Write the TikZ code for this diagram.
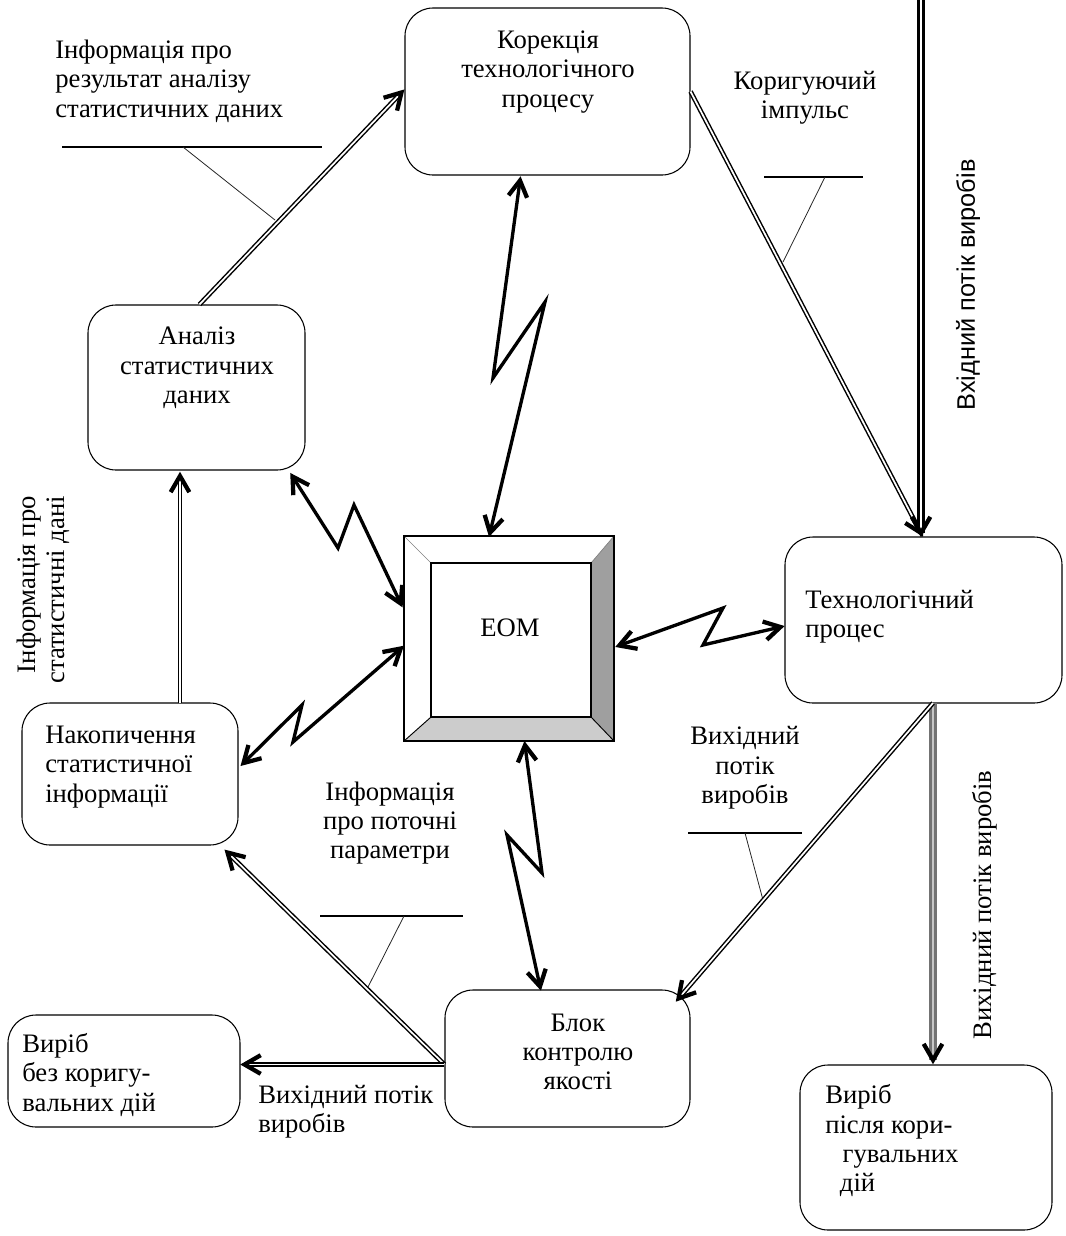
\documentclass[tikz,border=0pt]{standalone}
\usepackage{fontspec}
\setmainfont{Liberation Serif}
\newfontfamily\sansf{Liberation Sans}
\usetikzlibrary{calc}
\begin{document}
\begin{tikzpicture}[x=0.75pt,y=-0.75pt,
  box/.style 2 args={draw, line width=0.8pt, rounded corners=21pt, minimum width=#1*0.75pt, minimum height=#2*0.75pt, inner sep=0pt},
  txt/.style={inner sep=0pt, font=\fontsize{20}{22}\selectfont},
  dbl/.style={draw=black, double=white, line width=1.1pt, double distance=1.3pt},
  dblk/.style={draw=black, double=white, line width=1.8pt, double distance=2.2pt},
  dblg/.style={draw=black!55, double=black!22, line width=1.7pt, double distance=2.2pt},
  zz/.style={line width=2.5pt, line join=miter}
]
\tikzset{tipst/.style={line width=3.2pt, line join=miter, line cap=butt},
  cl/.style={line width=0.9pt},
  cld/.style={line width=0.6pt, draw=black!85}}
\newcommand\mytip[2]{\draw[line width=3.2pt, line join=miter] ($(#2)!14pt!30:(#1)$) -- (#2) -- ($(#2)!14pt!-30:(#1)$);}
\useasboundingbox (0,0) rectangle (1065,1236);

% boxes
\node[box={285}{167}] (korek) at (547.5,91.5) {};
\node[box={217}{165}] (analiz) at (196.5,387.5) {};
\node[box={277}{166}] (tech) at (923.5,620) {};
\node[box={216}{142}] (nakop) at (130,774) {};
\node[box={245}{137}] (blok) at (567.5,1058.5) {};
\node[box={232}{112}] (vbez) at (124,1071) {};
\node[box={252}{165}] (vpis) at (926,1147.5) {};

% EOM bevelled box
\node[minimum width=210*0.75pt, minimum height=205*0.75pt, inner sep=0pt] (eom) at (509,638.5) {};
\coordinate (i1) at ($(eom.north west)+(27,27)$);
\coordinate (i2) at ($(eom.north east)+(-23,27)$);
\coordinate (i3) at ($(eom.south east)+(-23,-24)$);
\coordinate (i4) at ($(eom.south west)+(27,-24)$);
\fill[gray!75] (eom.north east) -- (eom.south east) -- (i3) -- (i2) -- cycle;
\fill[gray!40] (eom.south west) -- (eom.south east) -- (i3) -- (i4) -- cycle;
\draw[line width=0.5pt, gray] (eom.north west) -- (i1) (eom.north east) -- (i2);
\draw[line width=0.7pt] (eom.south west) -- (i4) (eom.south east) -- (i3);
\draw[line width=1.5pt] (eom.north west) rectangle (eom.south east);
\draw[line width=1.3pt] (i1) rectangle (i3);

% texts
\node[txt, align=left, anchor=west] (t1) at (55,81) {Інформація про\\результат аналізу\\статистичних даних};
\node[txt, align=center] (tkorek) at (548,72) {Корекція\\технологічного\\процесу};
\node[txt, align=center] (timp) at (805,98) {Коригуючий\\імпульс};
\node[inner sep=0pt, font=\sansf\fontsize{19}{22}\selectfont, rotate=90] (tin) at (968,285) {Вхідний потік виробів};
\node[txt, align=center] (tanaliz) at (197,368) {Аналіз\\статистичних\\даних};
\node[txt, rotate=90, align=right] (tstat) at (43,590) {Інформація про\\статистичні дані};
\node[txt] (teom) at (510,628) {ЕОМ};
\node[txt, align=left, anchor=west] (ttech) at (805,617) {Технологічний\\процес};
\node[txt, align=center] (tout1) at (745,768) {Вихідний\\потік\\виробів};
\node[txt, rotate=90] (tout2) at (985,905) {Вихідний потік виробів};
\node[txt, align=left, anchor=west] (tnakop) at (45,767) {Накопичення\\статистичної\\інформації};
\node[txt, align=center] (tpar) at (390,823) {Інформація\\про поточні\\параметри};
\node[txt, align=center] (tblok) at (578,1052) {Блок\\контролю\\якості};
\node[txt, align=left, anchor=west] (tvbez) at (22,1075) {Виріб\\без коригу-\\вальних дій};
\node[txt, align=left, anchor=west] (tout3) at (258,1112) {Вихідний потік\\виробів};
\node[txt, align=left, anchor=west] (tvpis) at (825,1141) {Виріб\\після кори-\\\hspace*{13pt}гувальних\\\hspace*{11pt}дій};

% callout lines
\coordinate (c1a) at (62,147); \coordinate (c1b) at (322,147); \coordinate (c1c) at (183,147); \coordinate (c1d) at (275,220);
\draw[cl] (c1a) -- (c1b); \draw[cld] (c1c) -- (c1d);
\coordinate (c2a) at (764,177); \coordinate (c2b) at (863,177); \coordinate (c2c) at (825,177); \coordinate (c2d) at (783,262);
\draw[cl] (c2a) -- (c2b); \draw[cld] (c2c) -- (c2d);
\coordinate (c3a) at (688,833); \coordinate (c3b) at (802,833); \coordinate (c3c) at (745,833); \coordinate (c3d) at (763,900);
\draw[cl] (c3a) -- (c3b); \draw[cld] (c3c) -- (c3d);
\coordinate (c4a) at (320,916); \coordinate (c4b) at (463,916); \coordinate (c4c) at (404,916); \coordinate (c4d) at (368,987);
\draw[cl] (c4a) -- (c4b); \draw[cld] (c4c) -- (c4d);

% double-line connectors
% analiz -> korek
\coordinate (a1s) at ($(analiz.north)+(3,0)$);
\coordinate (kIn) at ($(korek.west)+(-3,1)$);
\draw[dbl] (a1s) -- (kIn); \mytip{a1s}{kIn}
% korek -> tech
\coordinate (tIn) at (921,533);
\draw[dbl] (korek.east) -- (tIn); \mytip{korek.east}{tIn}
% input flow
\coordinate (inTop) at (921,0);
\draw[dblk] (inTop) -- (tIn); \mytip{inTop}{tIn}
% tech -> vpis
\coordinate (tout) at (933,703);
\coordinate (vIn) at (933,1060);
\draw[dblg] (tout) -- (vIn); \mytip{tout}{vIn}
% tech -> blok
\coordinate (bIn) at ($(blok.north east)+(-12,9)$);
\draw[dbl] (tout) -- (bIn); \mytip{tout}{bIn}
% blok -> nakop
\coordinate (bOut) at ($(blok.west)+(0,6)$);
\coordinate (nIn) at ($(nakop.south east)+(-11,7)$);
\draw[dbl] (bOut) -- (nIn); \mytip{bOut}{nIn}
% blok -> vbez
\coordinate (vbIn) at ($(bOut -| vbez.east)+(4,0)$);
\draw[dbl, line width=1.2pt] (bOut) -- (vbIn); \mytip{bOut}{vbIn}
% nakop -> analiz
\coordinate (nOut) at (180,703);
\coordinate (aIn) at (180,476);
\draw[dbl] (nOut) -- (aIn); \mytip{nOut}{aIn}

% zigzag links
\coordinate (za0) at ($(korek.south)+(-27.5,5)$); \coordinate (za1) at (493,378); \coordinate (za2) at (545,302); \coordinate (za3) at ($(eom.north)+(-19,-3)$);
\draw[zz] (za0) -- (za1) -- (za2) -- (za3); \mytip{za1}{za0} \mytip{za2}{za3}
\coordinate (zb0) at ($(analiz.south east)+(-13,6)$); \coordinate (zb1) at (338,548); \coordinate (zb2) at (354,505); \coordinate (zb3) at ($(eom.west)+(-3,-35)$);
\draw[zz] (zb0) -- (zb1) -- (zb2) -- (zb3); \mytip{zb1}{zb0} \mytip{zb2}{zb3}
\coordinate (zc0) at ($(nakop.east)+(5,-11)$); \coordinate (zc1) at (302,705); \coordinate (zc2) at (293,742); \coordinate (zc3) at ($(eom.west)+(-3,10)$);
\draw[zz] (zc0) -- (zc1) -- (zc2) -- (zc3); \mytip{zc1}{zc0} \mytip{zc2}{zc3}
\coordinate (zd0) at ($(eom.east)+(5,7)$); \coordinate (zd1) at (723,608); \coordinate (zd2) at (703,645); \coordinate (zd3) at ($(tech.west)+(-4,7)$);
\draw[zz] (zd0) -- (zd1) -- (zd2) -- (zd3); \mytip{zd1}{zd0} \mytip{zd2}{zd3}
\coordinate (ze0) at ($(eom.south)+(16,4)$); \coordinate (ze1) at (542,873); \coordinate (ze2) at (507,835); \coordinate (ze3) at ($(blok.north)+(-27.5,-3)$);
\draw[zz] (ze0) -- (ze1) -- (ze2) -- (ze3); \mytip{ze1}{ze0} \mytip{ze2}{ze3}
\end{tikzpicture}
\end{document}
